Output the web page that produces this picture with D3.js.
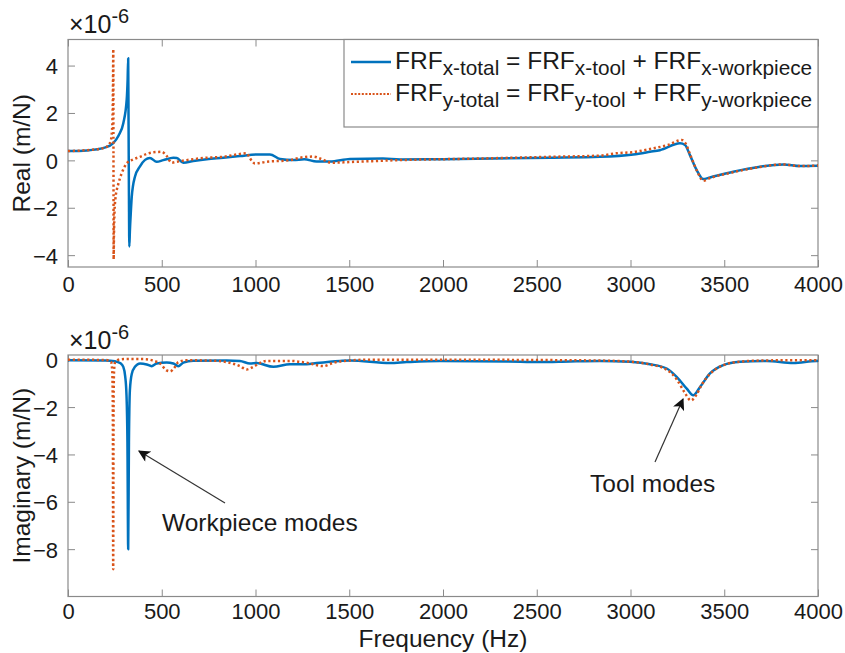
<!DOCTYPE html>
<html><head><meta charset="utf-8">
<script src="https://cdn.jsdelivr.net/npm/d3@7"></script>
<style>
html,body{margin:0;padding:0;background:#fff;}
svg text{font-family:"Liberation Sans",Arial,Helvetica,sans-serif;fill:#1a1a1a;}
</style></head><body>
<svg id="chart" width="845" height="653"></svg>
<script>
// ---------- data (frequency Hz, value ×1e-6 m/N) ----------
const realX = [[0,0.39],[100,0.42],[200,0.55],[240,0.72],[270,1.05],[295,1.57],[313,2.55],[318,3.4],[321,4.31],[323,1.5],[325,-1.5],[327,-3.64],[330,-3.0],[335,-2.2],[340,-1.54],[357,-0.69],[384,-0.25],[411,0.02],[437,0.1],[473,-0.06],[508,0.01],[562,0.11],[580,0.1],[615,-0.1],[668,-0.03],[740,0.05],[828,0.11],[917,0.18],[1006,0.25],[1077,0.25],[1131,0.06],[1202,0.01],[1260,0.05],[1326,-0.05],[1397,-0.05],[1504,0.06],[1680,0.08],[1771,0.04],[2000,0.05],[2571,0.11],[2837,0.15],[3015,0.25],[3104,0.36],[3157,0.43],[3264,0.72],[3291,0.65],[3317,0.22],[3353,-0.41],[3388,-0.79],[3424,-0.72],[3548,-0.48],[3691,-0.27],[3815,-0.17],[3904,-0.24],[4000,-0.23]];
const realY = [[0,0.39],[100,0.43],[180,0.5],[206,0.57],[225,0.75],[233,1.1],[237,1.7],[239.5,2.8],[241.5,4.69],[242.5,0.3],[243.5,-4.17],[245,-3.2],[248,-2.2],[253,-1.6],[260,-1.25],[268,-1.0],[286,-0.55],[313,-0.13],[348,0.04],[384,0.15],[420,0.27],[455,0.34],[500,0.36],[526,0.19],[553,-0.1],[580,-0.06],[633,0.01],[740,0.11],[828,0.15],[917,0.27],[953,0.3],[971,0.08],[997,-0.13],[1060,-0.06],[1184,0.01],[1237,0.11],[1308,0.16],[1344,0.08],[1406,-0.1],[1504,-0.07],[1771,0.01],[2213,0.08],[2571,0.15],[2837,0.2],[2926,0.3],[3015,0.35],[3104,0.48],[3200,0.65],[3273,0.86],[3295,0.7],[3320,0.2],[3355,-0.45],[3388,-0.86],[3424,-0.75],[3548,-0.5],[3691,-0.28],[3815,-0.17],[3904,-0.24],[4000,-0.22]];
const imagX = [[0,-0.02],[200,-0.03],[250,-0.06],[280,-0.15],[295,-0.3],[305,-0.7],[312,-1.5],[317,-3.5],[321,-8.0],[325,-3.5],[330,-1.3],[340,-0.6],[357,-0.3],[384,-0.16],[420,-0.2],[446,-0.27],[473,-0.16],[526,-0.12],[562,-0.16],[588,-0.27],[615,-0.12],[668,-0.04],[846,-0.03],[917,-0.05],[971,-0.16],[1006,-0.14],[1095,-0.3],[1184,-0.19],[1273,-0.19],[1326,-0.14],[1451,-0.05],[1504,-0.03],[1717,-0.14],[1806,-0.1],[1984,-0.05],[2340,-0.07],[2517,-0.1],[2677,-0.07],[2837,-0.05],[2997,-0.09],[3104,-0.19],[3193,-0.37],[3246,-0.72],[3300,-1.22],[3335,-1.5],[3371,-1.15],[3424,-0.58],[3495,-0.23],[3584,-0.09],[3726,-0.05],[3868,-0.14],[3993,-0.05],[4000,-0.05]];
const imagY = [[0,0],[200,-0.01],[230,-0.1],[236,-0.5],[239,-2.0],[241,-8.85],[243,-2.0],[246,-0.4],[252,-0.1],[270,0.0],[300,0.03],[400,0.03],[460,-0.05],[491,-0.16],[526,-0.45],[544,-0.49],[571,-0.3],[588,-0.1],[633,-0.02],[800,-0.05],[846,-0.1],[917,-0.27],[953,-0.41],[988,-0.3],[1024,-0.13],[1060,-0.05],[1184,-0.05],[1273,-0.13],[1362,-0.27],[1415,-0.13],[1504,-0.03],[1600,0.0],[2000,0.0],[2800,-0.03],[2997,-0.08],[3104,-0.2],[3193,-0.42],[3246,-0.82],[3290,-1.4],[3322,-1.72],[3350,-1.5],[3380,-1.05],[3424,-0.6],[3495,-0.23],[3584,-0.08],[3726,-0.03],[3900,-0.02],[4000,-0.02]];
const xTicks = [0,500,1000,1500,2000,2500,3000,3500,4000];
const realTicks = [-4,-2,0,2,4];
const imagTicks = [-8,-6,-4,-2,0];
const xDomain = [0,4000];
const realDomain = [-4.5,5.1];
const imagDomain = [-10,0.2];

// ---------- layout ----------
const svg = d3.select("#chart");
const L = 68, R = 818;
const panels = [
  {y0:39.5, y1:267, pad:9, dom:realDomain, ticks:realTicks, sx:realX, sy:realY, label:"Real (m/N)"},
  {y0:355, y1:596.5, pad:7, dom:imagDomain, ticks:imagTicks, sx:imagX, sy:imagY, label:"Imaginary (m/N)"}
];
const x = d3.scaleLinear().domain(xDomain).range([L,R]);
const BLUE = "#0072BD", ORANGE = "#D95319", FRAME = "#8a8a8a";
const FS = 22, LFS = 24.5;

svg.append("defs").append("marker").attr("id","arr").attr("viewBox","0 0 10 10")
  .attr("refX",9).attr("refY",5).attr("markerWidth",15).attr("markerHeight",12)
  .attr("markerUnits","userSpaceOnUse").attr("orient","auto")
  .append("path").attr("d","M0,0 L10,5 L0,10 L2.5,5 Z").attr("fill","#111");

panels.forEach((p,i)=>{
  const y = d3.scaleLinear().domain(p.dom).range([p.y1,p.y0]);
  const g = svg.append("g");
  g.append("g").attr("transform",`translate(0,${p.y1})`)
    .call(d3.axisBottom(x).tickValues(xTicks).tickSize(-7).tickPadding(p.pad).tickFormat(d3.format("d")));
  g.append("g").attr("transform",`translate(0,${p.y0})`)
    .call(d3.axisTop(x).tickValues(xTicks).tickSize(-7).tickFormat(""));
  const ay = g.append("g").attr("transform",`translate(${L},0)`)
    .call(d3.axisLeft(y).tickValues(p.ticks).tickSize(-7).tickPadding(10).tickFormat(d3.format("d")));
  g.append("g").attr("transform",`translate(${R},0)`)
    .call(d3.axisRight(y).tickValues(p.ticks).tickSize(-7).tickFormat(""));
  g.selectAll(".domain").remove();
  g.selectAll(".tick line").attr("stroke",FRAME);
  g.selectAll(".tick text").attr("font-size",FS).style("fill","#1a1a1a");
  ay.selectAll(".tick text").attr("dy","0.36em");
  g.append("rect").attr("x",L).attr("y",p.y0).attr("width",R-L).attr("height",p.y1-p.y0)
    .attr("fill","none").attr("stroke",FRAME).attr("stroke-width",1.2);
  const ex = g.append("text").attr("x",L+1).attr("y",p.y0-6.5).attr("font-size",25);
  ex.append("tspan").text("\u00d710");
  ex.append("tspan").attr("dy",-10).attr("font-size",20).text("-6");
  g.append("text").attr("transform",`translate(30,${(p.y0+p.y1)/2}) rotate(-90)`)
    .attr("text-anchor","middle").attr("font-size",LFS).text(p.label);
  const line = d3.line().x(d=>x(d[0])).y(d=>y(d[1])).curve(d3.curveMonotoneX);
  g.append("path").datum(p.sx).attr("d",line).attr("fill","none")
    .attr("stroke",BLUE).attr("stroke-width",2.5).attr("stroke-linejoin","round");
  g.append("path").datum(p.sy).attr("d",line).attr("fill","none")
    .attr("stroke",ORANGE).attr("stroke-width",2.5).attr("stroke-dasharray","2.2,2.6");
});

svg.append("text").attr("x",(L+R)/2).attr("y",647).attr("text-anchor","middle")
  .attr("font-size",LFS).text("Frequency (Hz)");

// legend
const lg = svg.append("g");
lg.append("rect").attr("x",344).attr("y",39.5).attr("width",R-344).attr("height",87.5)
  .attr("fill","#fff").attr("stroke",FRAME).attr("stroke-width",1.2);
const legendRows = [
  {c:BLUE, dash:null, y:69, parts:[["FRF","x-total"],[" = FRF","x-tool"],[" + FRF","x-workpiece"]]},
  {c:ORANGE, dash:"2,1.6", y:101, parts:[["FRF","y-total"],[" = FRF","y-tool"],[" + FRF","y-workpiece"]]}
];
legendRows.forEach(r=>{
  lg.append("line").attr("x1",351).attr("x2",391).attr("y1",r.y-7).attr("y2",r.y-7)
    .attr("stroke",r.c).attr("stroke-width",r.dash?2:2.5).attr("stroke-dasharray",r.dash);
  const t = lg.append("text").attr("x",395).attr("y",r.y).attr("font-size",24.5);
  r.parts.forEach(pp=>{
    t.append("tspan").attr("font-size",24.5).attr("baseline-shift","0").text(pp[0]);
    t.append("tspan").attr("font-size",20.8).attr("baseline-shift","-30%").text(pp[1]);
  });
});

// annotations
svg.append("line").attr("x1",225).attr("y1",503).attr("x2",139).attr("y2",451)
  .attr("stroke","#333").attr("stroke-width",1.2).attr("marker-end","url(#arr)");
svg.append("text").attr("x",162).attr("y",531).attr("font-size",LFS).text("Workpiece modes");
svg.append("line").attr("x1",655).attr("y1",462).attr("x2",683).attr("y2",399)
  .attr("stroke","#333").attr("stroke-width",1.2).attr("marker-end","url(#arr)");
svg.append("text").attr("x",590).attr("y",492).attr("font-size",LFS).text("Tool modes");
</script>
</body></html>
